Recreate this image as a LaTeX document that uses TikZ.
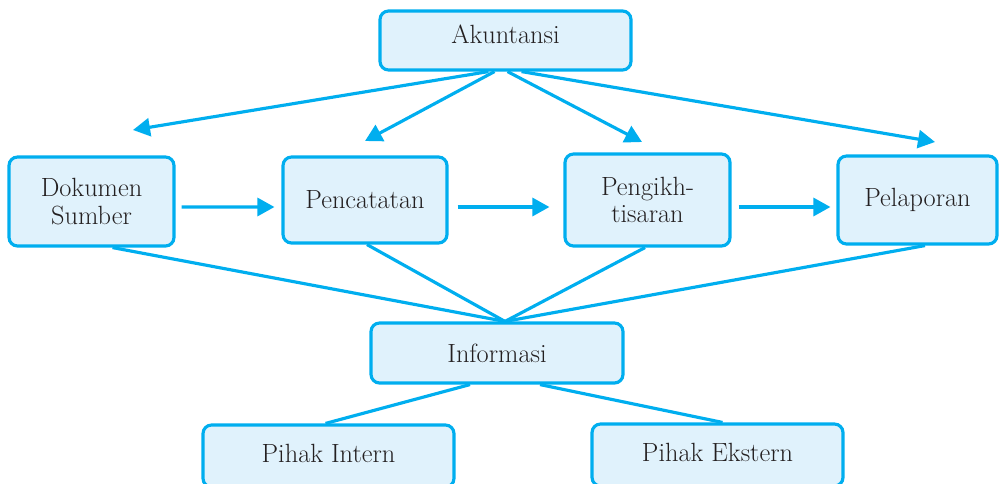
\documentclass[tikz,border=0pt]{standalone}
\usetikzlibrary{arrows.meta,calc}
\definecolor{flowline}{RGB}{0,174,239}
\definecolor{boxfill}{RGB}{224,242,252}
\definecolor{inktext}{RGB}{35,31,32}
\begin{document}
\begin{tikzpicture}[x=0.02cm,y=-0.02cm,
  box/.style={draw=flowline, fill=boxfill, line width=1.8pt,
    rounded corners=0.17cm, text=inktext, align=center, inner sep=0pt,
    font=\fontsize{15}{15.5}\selectfont},
  link/.style={draw=flowline, line width=1.8pt},
  arrowlink/.style={link, -{Triangle[length=0.34cm,width=0.36cm]}}]
\useasboundingbox (0,0) rectangle (999,483);

% boxes
\node[box, minimum width=5.02cm, minimum height=1.18cm, text depth=7pt] (ak) at (505.5,40.5) {Akuntansi};
\node[box, minimum width=3.30cm, minimum height=1.78cm] (dok) at (91.5,201.5) {Dokumen\\Sumber};
\node[box, minimum width=3.28cm, minimum height=1.72cm] (pen) at (365,200) {Pencatatan};
\node[box, minimum width=3.30cm, minimum height=1.84cm] (pkh) at (647.5,200) {Pengikh-\\tisaran};
\node[box, minimum width=3.18cm, minimum height=1.76cm] (pel) at (917.5,200) {Pelaporan};
\node[box, minimum width=5.04cm, minimum height=1.20cm] (inf) at (497,353) {Informasi};
\node[box, minimum width=5.02cm, minimum height=1.24cm, text depth=3pt] (pin) at (328.5,456) {Pihak Intern};
\node[box, minimum width=5.02cm, minimum height=1.24cm, text depth=3pt] (pek) at (717.5,455) {Pihak Ekstern};

% free arrow tips below Akuntansi
\coordinate (t1) at (133,130);
\coordinate (t2) at (365,141);
\coordinate (t3) at (642,142);
\coordinate (t4) at (935,142);

\draw[arrowlink] ($(ak.south)+(-17,0)$) -- (t1);
\draw[arrowlink] ($(ak.south)+(-11,0)$) -- (t2);
\draw[arrowlink] ($(ak.south)+(2,0)$) -- (t3);
\draw[arrowlink] ($(ak.south)+(16,0)$) -- (t4);

% process chain
\draw[arrowlink] ($(dok.east)+(6,5.5)$) -- ($(pen.west)+(-7,7)$);
\draw[arrowlink] ($(pen.east)+(9,7)$) -- ($(pkh.west)+(-14,7)$);
\draw[arrowlink] ($(pkh.east)+(7,7)$) -- ($(pel.west)+(-6,7)$);

% everything feeds Informasi
\coordinate (meet) at ($(inf.north)+(8,0)$);
\draw[link] ($(dok.south)+(21,0)$) -- (meet);
\draw[link] ($(pen.south)+(2,0)$) -- (meet);
\draw[link] ($(pkh.south)+(-2.5,0)$) -- (meet);
\draw[link] ($(pel.south)+(7.5,0)$) -- (meet);

% users of information
\draw[link] ($(inf.south)+(-27,0)$) -- ($(pin.north)+(-3,0)$);
\draw[link] ($(inf.south)+(43,0)$) -- ($(pek.north)+(5,0)$);
\end{tikzpicture}
\end{document}
